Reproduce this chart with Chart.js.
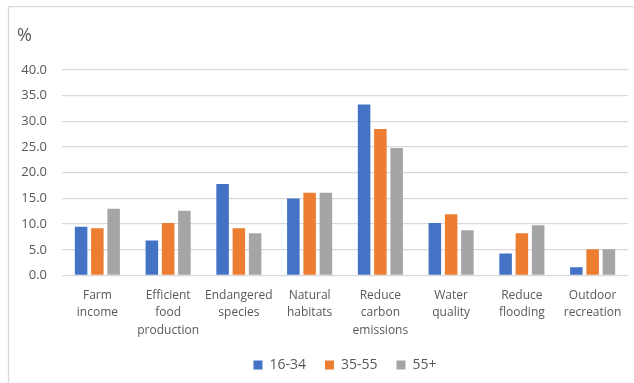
<!DOCTYPE html>
<html>
<head>
<meta charset="utf-8">
<script src="https://cdn.jsdelivr.net/npm/chart.js@4"></script>
<style>
  html, body { margin: 0; padding: 0; background: #ffffff; }
  #wrap { width: 634px; height: 383px; position: relative; }
</style>
</head>
<body>
<div id="wrap"><canvas id="chart"></canvas></div>
<script>
// Share of respondents (%) ranking each farm-support priority, by age band
const categories = [
  ['Farm', 'income'],
  ['Efficient', 'food', 'production'],
  ['Endangered', 'species'],
  ['Natural', 'habitats'],
  ['Reduce', 'carbon', 'emissions'],
  ['Water', 'quality'],
  ['Reduce', 'flooding'],
  ['Outdoor', 'recreation']
];
const seriesNames = ['16-34', '35-55', '55+'];
const age16to34 = [9.5, 6.8, 17.8, 15.0, 33.3, 10.2, 4.3, 1.6];
const age35to55 = [9.2, 10.2, 9.2, 16.1, 28.5, 11.9, 8.2, 5.1];
const age55plus = [13.0, 12.6, 8.2, 16.1, 24.8, 8.8, 9.8, 5.1];
const yTicks = [0, 5, 10, 15, 20, 25, 30, 35, 40];
const unitLabel = '%';

const colors = ['#4472C4', '#ED7D31', '#A5A5A5'];
const textColor = '#595959';
const gridColor = '#d9d9d9';
const fontFamily = "'Open Sans', 'Liberation Sans', sans-serif";

// Frame lines and the unit caption above the value axis
const framePlugin = {
  id: 'frame',
  beforeDraw(chart) {
    const ctx = chart.ctx;
    ctx.save();
    ctx.strokeStyle = gridColor;
    ctx.lineWidth = 1.3;
    ctx.beginPath();
    ctx.moveTo(8.5, 383);
    ctx.lineTo(8.5, 6.7);
    ctx.lineTo(634, 6.7);
    ctx.stroke();
    ctx.fillStyle = textColor;
    ctx.font = '18px ' + fontFamily;
    ctx.textAlign = 'left';
    ctx.textBaseline = 'alphabetic';
    ctx.fillText(unitLabel, 17, 41);
    ctx.restore();
  }
};

// Fix the legend band height so its row sits near the bottom edge
const legendHeightPlugin = {
  id: 'legendHeight',
  afterInit(chart) {
    const lg = chart.legend;
    if (!lg) return;
    const fit = lg.fit.bind(lg);
    lg.fit = function () { fit(); this.height = 44; };
  }
};

new Chart(document.getElementById('chart'), {
  type: 'bar',
  data: {
    labels: categories,
    datasets: [
      { label: seriesNames[0], data: age16to34, backgroundColor: colors[0] },
      { label: seriesNames[1], data: age35to55, backgroundColor: colors[1] },
      { label: seriesNames[2], data: age55plus, backgroundColor: colors[2] }
    ]
  },
  options: {
    responsive: true,
    maintainAspectRatio: false,
    animation: false,
    devicePixelRatio: 1,
    layout: { padding: { left: 8, right: 6, top: 70, bottom: 0 } },
    datasets: { bar: { categoryPercentage: 0.69, barPercentage: 0.77 } },
    plugins: {
      title: { display: false },
      tooltip: { enabled: false },
      legend: {
        display: true,
        position: 'bottom',
        fullSize: false,
        labels: {
          boxWidth: 9,
          boxHeight: 9,
          padding: 19,
          color: textColor,
          font: { family: fontFamily, size: 14 }
        }
      }
    },
    scales: {
      x: {
        grid: { display: false, drawTicks: false },
        border: { display: false },
        ticks: {
          autoSkip: false,
          maxRotation: 0,
          minRotation: 0,
          padding: 11,
          color: textColor,
          font: { family: fontFamily, size: 12, lineHeight: 1.475 }
        },
        afterFit(scale) { scale.height = 63.5; }
      },
      y: {
        min: 0,
        max: 40,
        afterBuildTicks(scale) { scale.ticks = yTicks.map(v => ({ value: v })); },
        grid: { color: gridColor, lineWidth: 1.3, drawTicks: false },
        border: { display: false },
        ticks: {
          padding: 15,
          color: textColor,
          font: { family: fontFamily, size: 13 },
          callback: v => Number(v).toFixed(1)
        },
        afterFit(scale) { scale.width = 54; }
      }
    }
  },
  plugins: [framePlugin, legendHeightPlugin]
});
</script>
</body>
</html>
